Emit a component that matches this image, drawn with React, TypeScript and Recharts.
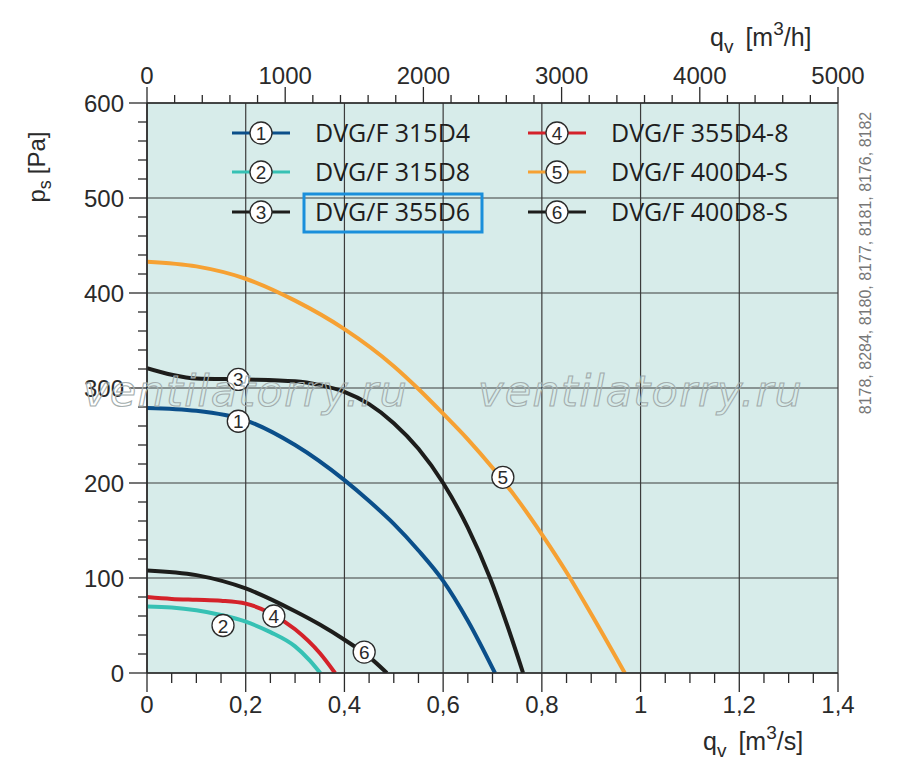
import React from "react";
import {
  LineChart,
  Line,
  XAxis,
  YAxis,
  CartesianGrid,
  ReferenceDot,
} from "recharts";

// Flow q (m³/s) and static pressure ps (Pa)
const q315D4 = [0, 0.1, 0.2, 0.3, 0.4, 0.45, 0.5, 0.55, 0.6, 0.65, 0.705];
const p315D4 = [279, 276, 266, 240, 203, 181, 157, 129, 97, 55, 0];

const q315D8 = [0, 0.05, 0.1, 0.15, 0.2, 0.25, 0.3, 0.33, 0.351];
const p315D8 = [70, 69, 66, 61, 54, 43, 28, 13, 0];

const q355D6 = [0, 0.05, 0.1, 0.2, 0.3, 0.35, 0.4, 0.45, 0.5, 0.55, 0.6, 0.65, 0.695, 0.73, 0.762];
const p355D6 = [321, 314, 310, 309, 307, 303, 296, 283, 263, 236, 200, 153, 100, 50, 0];

const q355D48 = [0, 0.05, 0.1, 0.15, 0.2, 0.25, 0.3, 0.35, 0.381];
const p355D48 = [80, 78, 77, 76, 73, 63, 46, 21, 0];

const q400D4S = [0, 0.1, 0.2, 0.3, 0.4, 0.5, 0.55, 0.6, 0.65, 0.7, 0.75, 0.8, 0.85, 0.9, 0.968];
const p400D4S = [433, 428, 415, 392, 362, 323, 299, 273, 246, 216, 183, 146, 106, 62, 0];

const q400D8S = [0, 0.1, 0.2, 0.3, 0.35, 0.4, 0.45, 0.486];
const p400D8S = [108, 103, 89, 65, 51, 35, 17, 0];

const seriesNames = ["DVG/F 315D4", "DVG/F 315D8", "DVG/F 355D6", "DVG/F 355D4-8", "DVG/F 400D4-S", "DVG/F 400D8-S"];
const seriesColors = ["#0b4f8a", "#36c1b4", "#1d1d1b", "#d4222a", "#f6a133", "#1d1d1b"];
const seriesQ = [q315D4, q315D8, q355D6, q355D48, q400D4S, q400D8S];
const seriesP = [p315D4, p315D8, p355D6, p355D48, p400D4S, p400D8S];

// numbered markers on the curves
const markerQ = [0.185, 0.154, 0.185, 0.257, 0.721, 0.44];
const markerP = [265, 50, 309, 60, 206, 22];

// axes
const qTicksMajor = [0, 0.2, 0.4, 0.6, 0.8, 1, 1.2, 1.4];
const pTicksMajor = [0, 100, 200, 300, 400, 500, 600];
const hTicksMajor = [0, 1000, 2000, 3000, 4000, 5000];

const qTicks = qTicksMajor.flatMap((v, i) =>
  i === qTicksMajor.length - 1 ? [v] : [v, v + 0.05, v + 0.1, v + 0.15]
);
const pTicks = pTicksMajor.flatMap((v, i) =>
  i === pTicksMajor.length - 1 ? [v] : [v, v + 20, v + 40, v + 60, v + 80]
);
const hTicks = hTicksMajor.flatMap((v, i) =>
  i === hTicksMajor.length - 1 ? [v] : [v, v + 200, v + 400, v + 600, v + 800]
);

const FONT = "'Liberation Sans', Arial, sans-serif";
const INK = "#2a2a2a";

const isOn = (v: number, step: number) =>
  Math.abs(v / step - Math.round(v / step)) < 1e-6;

const fmtQ = (v: number) =>
  isOn(v, 1) ? String(Math.round(v)) : v.toFixed(1).replace(".", ",");

function BottomTick(props: any) {
  const { x, y, payload } = props;
  const major = isOn(payload.value, 0.2);
  return (
    <g>
      <line x1={x} x2={x} y1={y} y2={y + (major ? 19 : 10)} stroke={INK} strokeWidth={1.3} />
      {major && (
        <text x={x} y={y + 40} textAnchor="middle" fontSize={24} fontFamily={FONT} fill={INK}>
          {fmtQ(payload.value)}
        </text>
      )}
    </g>
  );
}

function LeftTick(props: any) {
  const { x, y, payload } = props;
  const major = isOn(payload.value, 100);
  return (
    <g>
      <line x1={x} x2={x - (major ? 18 : 9)} y1={y} y2={y} stroke={INK} strokeWidth={1.3} />
      {major && (
        <text x={x - 23} y={y + 8.5} textAnchor="end" fontSize={24} fontFamily={FONT} fill={INK}>
          {payload.value}
        </text>
      )}
    </g>
  );
}

function TopTick(props: any) {
  const { x, y, payload } = props;
  const major = isOn(payload.value, 1000);
  return (
    <g>
      <line x1={x} x2={x} y1={y} y2={y - (major ? 16 : 8)} stroke={INK} strokeWidth={1.3} />
      {major && (
        <text x={x} y={y - 19} textAnchor="middle" fontSize={24} fontFamily={FONT} fill={INK}>
          {payload.value}
        </text>
      )}
    </g>
  );
}

function Marker(n: number) {
  return (props: any) => (
    <g>
      <circle cx={props.cx} cy={props.cy} r={11} fill="#ffffff" stroke={INK} strokeWidth={1.3} />
      <text x={props.cx} y={props.cy + 7} textAnchor="middle" fontSize={19} fontFamily={FONT} fill={INK}>
        {n}
      </text>
    </g>
  );
}

// legend layout: two columns of three rows
const legendRowsY = [133, 172, 212];
const legendColX = [232, 528];

function Overlay() {
  return (
    <svg
      width={900}
      height={781}
      style={{ position: "absolute", left: 0, top: 0, pointerEvents: "none" }}
    >
      {seriesNames.map((name, i) => {
        const col = i < 3 ? 0 : 1;
        const y = legendRowsY[i % 3];
        const x0 = legendColX[col];
        return (
          <g key={name}>
            <line x1={x0} x2={x0 + 58} y1={y} y2={y} stroke={seriesColors[i]} strokeWidth={3} />
            <circle cx={x0 + 29} cy={y} r={11} fill="#ffffff" stroke={INK} strokeWidth={1.3} />
            <text x={x0 + 29} y={y + 7} textAnchor="middle" fontSize={19} fontFamily={FONT} fill={INK}>
              {i + 1}
            </text>
            <text x={x0 + 83} y={y + 9} fontSize={25} fontFamily="'Open Sans', sans-serif" fill="#1e1e1e">
              {name}
            </text>
          </g>
        );
      })}
      <rect x={304} y={194} width={178} height={38} fill="none" stroke="#1a8fdb" strokeWidth={3} />

      {/* axis titles */}
      <text transform="translate(45,167) rotate(-90)" textAnchor="middle" fontSize={24} fontFamily={FONT} fill={INK}>
        p<tspan fontSize={18} dy={6}>s</tspan>
        <tspan dy={-6} dx={6}>[Pa]</tspan>
      </text>
      <text x={703} y={750} fontSize={25} fontFamily={FONT} fill={INK}>
        q<tspan fontSize={19} dy={7}>v</tspan>
        <tspan dy={-7} dx={12}>[m</tspan>
        <tspan fontSize={19} dy={-11}>3</tspan>
        <tspan dy={11}>/s]</tspan>
      </text>
      <text x={710} y={46} fontSize={25} fontFamily={FONT} fill={INK}>
        q<tspan fontSize={19} dy={7}>v</tspan>
        <tspan dy={-7} dx={12}>[m</tspan>
        <tspan fontSize={19} dy={-11}>3</tspan>
        <tspan dy={11}>/h]</tspan>
      </text>

      <text transform="translate(871,263) rotate(-90)" textAnchor="middle" fontSize={16} fontFamily={FONT} fill="#777777">
        8178, 8284, 8180, 8177, 8181, 8176, 8182
      </text>

      {/* watermark */}
      {[83, 478].map((x) => (
        <text
          key={x}
          x={x}
          y={406}
          fontSize={43}
          fontStyle="italic"
          letterSpacing={1.3}
          fontFamily="'DejaVu Sans', sans-serif"
          fill="none"
          stroke="#a3adad"
          strokeWidth={1.1}
        >
          ventilatorry.ru
        </text>
      ))}
    </svg>
  );
}

export default function App() {
  const lines = seriesQ.map((qs, i) => qs.map((q, j) => ({ q, p: seriesP[i][j] })));
  return (
    <div style={{ position: "absolute", left: 0, top: 0, width: 900, height: 781, background: "#ffffff" }}>
      <LineChart
        width={900}
        height={781}
        margin={{ top: 63, right: 62, bottom: 68, left: 87 }}
      >
        <CartesianGrid
          fill="#d7ecea"
          stroke="#3c3c3c"
          strokeWidth={1.2}
          horizontalValues={pTicksMajor}
          verticalValues={qTicksMajor}
        />
        <XAxis
          dataKey="q"
          type="number"
          domain={[0, 1.4]}
          ticks={qTicks}
          interval={0}
          height={40}
          tickSize={0}
          tickMargin={0}
          tick={<BottomTick />}
          axisLine={{ stroke: INK, strokeWidth: 1.6 }}
          allowDataOverflow
        />
        <XAxis
          xAxisId="top"
          dataKey="q"
          orientation="top"
          type="number"
          domain={[0, 5000]}
          ticks={hTicks}
          interval={0}
          height={40}
          tickSize={0}
          tickMargin={0}
          tick={<TopTick />}
          axisLine={{ stroke: INK, strokeWidth: 1.6 }}
          allowDataOverflow
        />
        <YAxis
          type="number"
          domain={[0, 600]}
          ticks={pTicks}
          interval={0}
          width={60}
          tickSize={0}
          tickMargin={0}
          tick={<LeftTick />}
          axisLine={{ stroke: INK, strokeWidth: 1.6 }}
          allowDataOverflow
        />
        {/* carries the m³/h axis; draws nothing */}
        <Line
          xAxisId="top"
          data={[]}
          dataKey="p"
          stroke="none"
          dot={false}
          activeDot={false}
          isAnimationActive={false}
        />
        {lines.map((data, i) => (
          <Line
            key={seriesNames[i]}
            data={data}
            dataKey="p"
            type="monotone"
            stroke={seriesColors[i]}
            strokeWidth={4}
            dot={false}
            activeDot={false}
            isAnimationActive={false}
          />
        ))}
        {markerQ.map((q, i) => (
          <ReferenceDot key={i} x={q} y={markerP[i]} r={11} shape={Marker(i + 1)} />
        ))}
      </LineChart>
      <Overlay />
    </div>
  );
}
